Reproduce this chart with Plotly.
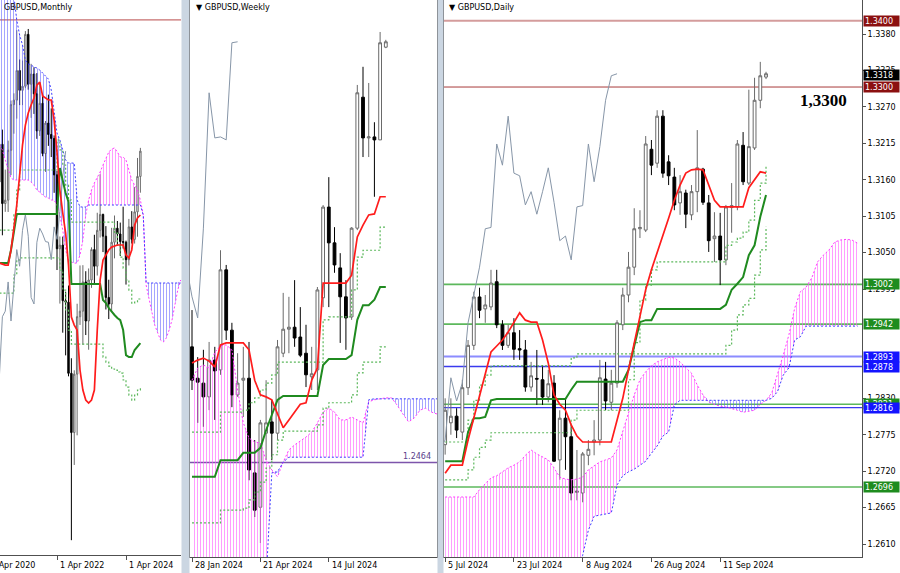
import numpy as np
import plotly.graph_objects as go

# ================= DATA =================
# ---- Monthly (bar index: 0 = Apr 2022) ----
m_pos = list(range(-20, 30))
m_open = [1.3083, 1.3370, 1.2918, 1.2944, 1.3325, 1.3673, 1.3707, 1.3933, 1.3782, 1.3813,
          1.4209, 1.3828, 1.3906, 1.3755, 1.3472, 1.3683, 1.3300, 1.3532, 1.3445, 1.3415,
          1.3137, 1.2573, 1.2601, 1.2177, 1.2166, 1.1623, 1.1171, 1.1617, 1.2055, 1.2097,
          1.2320, 1.2022, 1.2335, 1.2567, 1.2440, 1.2714, 1.2835, 1.2669, 1.2202, 1.2152,
          1.2623, 1.2730, 1.2686, 1.2628, 1.2623, 1.2490, 1.2740, 1.2645, 1.2855, 1.3125]
m_high = [1.3395, 1.3482, 1.3177, 1.3398, 1.3704, 1.3759, 1.4241, 1.4017, 1.4009, 1.4234,
          1.4250, 1.3984, 1.3958, 1.3913, 1.3834, 1.3750, 1.3548, 1.3749, 1.3644, 1.3438,
          1.3167, 1.2667, 1.2666, 1.2246, 1.2293, 1.1738, 1.1646, 1.2154, 1.2446, 1.2448,
          1.2402, 1.2423, 1.2584, 1.2680, 1.2848, 1.3142, 1.2841, 1.2746, 1.2337, 1.2733,
          1.2827, 1.2785, 1.2773, 1.2894, 1.2635, 1.2801, 1.2860, 1.3044, 1.3266, 1.3343]
m_low = [1.3005, 1.2676, 1.2855, 1.2854, 1.3135, 1.3451, 1.3566, 1.3669, 1.3669, 1.3799,
         1.3787, 1.3572, 1.3602, 1.3412, 1.3434, 1.3279, 1.3160, 1.3358, 1.3273, 1.3000,
         1.2411, 1.2155, 1.1933, 1.1760, 1.1600, 1.0350, 1.0924, 1.1150, 1.1992, 1.1841,
         1.1915, 1.1803, 1.2275, 1.2308, 1.2369, 1.2659, 1.2548, 1.2110, 1.2037, 1.2095,
         1.2500, 1.2597, 1.2518, 1.2575, 1.2300, 1.2446, 1.2613, 1.2613, 1.2665, 1.3001]
m_close = [1.3370, 1.2918, 1.2944, 1.3325, 1.3673, 1.3707, 1.3933, 1.3782, 1.3813, 1.4209,
           1.3828, 1.3906, 1.3755, 1.3472, 1.3683, 1.3300, 1.3532, 1.3445, 1.3415, 1.3137,
           1.2573, 1.2601, 1.2177, 1.2166, 1.1623, 1.1171, 1.1617, 1.2055, 1.2097, 1.2320,
           1.2022, 1.2335, 1.2567, 1.2440, 1.2714, 1.2835, 1.2669, 1.2202, 1.2152, 1.2623,
           1.2730, 1.2686, 1.2628, 1.2623, 1.2490, 1.2740, 1.2645, 1.2855, 1.3125, 1.3318]
m_tenkan = [1.2464, 1.2457, 1.2449, 1.2449, 1.2564, 1.2731, 1.2907, 1.3136, 1.3365, 1.3517,
            1.3609, 1.3670, 1.3723, 1.3822, 1.3845, 1.3739, 1.3723, 1.3708, 1.3708, 1.3555,
            1.3311, 1.3021, 1.2846, 1.2693, 1.2449, 1.2052, 1.1991, 1.1953, 1.1648, 1.1495,
            1.1419, 1.1396, 1.1419, 1.1495, 1.1953, 1.2335, 1.2487, 1.2525, 1.2564, 1.2586,
            1.2594, 1.2602, 1.2602, 1.2602, 1.2525, 1.2503, 1.2564, 1.2754, 1.2808, 1.2831]
m_kijun = [1.2464, 1.2464, 1.2464, 1.2464, 1.2564, 1.2701, 1.2838, 1.2838, 1.2838, 1.2838,
           1.2838, 1.2838, 1.2838, 1.2838, 1.2838, 1.2838, 1.2838, 1.2838, 1.2838, 1.2838,
           1.2838, 1.3189, 1.3082, 1.2998, 1.2930, 1.2304, 1.2304, 1.2304, 1.2304, 1.2304,
           1.2304, 1.2304, 1.2304, 1.2304, 1.2304, 1.2304, 1.2182, 1.2159, 1.2121, 1.2090,
           1.2068, 1.2045, 1.2029, 1.1953, 1.1762, 1.1747, 1.1747, 1.1801, 1.1831, 1.1854]
m_level1 = [1.2716, 1.2716, 1.2716, 1.2716, 1.2716, 1.2831, 1.3021, 1.3174, 1.3174, 1.3174,
            1.3174, 1.3174, 1.3174, 1.3174, 1.3174, 1.3174, 1.3174, 1.3174, 1.3174, 1.3174,
            1.3403, 1.3327, 1.3212, 1.3059, 1.2945, 1.2777, 1.2777, 1.2777, 1.2777, 1.2777,
            1.2777, 1.2777, 1.2777, 1.2777, 1.2777, 1.2777, 1.2777, 1.2777, 1.2777, 1.2777,
            1.2693, 1.2602, 1.2510, 1.2426, 1.2335, 1.2258, 1.2159, 1.2167, 1.2190, 1.2205]
m_level2 = [1.2235, 1.2235, 1.2235, 1.2235, 1.2235, 1.2373, 1.2487, 1.2503, 1.2503, 1.2503,
            1.2503, 1.2503, 1.2503, 1.2503, 1.2503, 1.2503, 1.2503, 1.2503, 1.2503, 1.2503,
            1.2503, 1.2411, 1.2258, 1.2106, 1.1953, 1.1846, 1.1846, 1.1846, 1.1846, 1.1846,
            1.1846, 1.1846, 1.1846, 1.1846, 1.1846, 1.1846, 1.1747, 1.1709, 1.1678, 1.1656,
            1.1648, 1.1633, 1.1625, 1.1572, 1.1518, 1.1457, 1.1419, 1.1457, 1.1495, 1.1511]
m_cloud_pos = list(range(-20, 44))
m_span_a = [1.3365, 1.3327, 1.3250, 1.3174, 1.3113, 1.3098, 1.3098, 1.3098, 1.3098, 1.3098,
            1.3098, 1.3082, 1.3059, 1.3021, 1.3006, 1.2983, 1.2968, 1.2960, 1.2945, 1.2945,
            1.2907, 1.2831, 1.2716, 1.2564, 1.2487, 1.2472, 1.2464, 1.2464, 1.2525, 1.2640,
            1.2831, 1.2945, 1.3021, 1.3075, 1.3113, 1.3159, 1.3212, 1.3266, 1.3311, 1.3334,
            1.3342, 1.3311, 1.3273, 1.3273, 1.3250, 1.3174, 1.3098, 1.3059, 1.3021, 1.2945,
            1.2831, 1.2296, 1.2205, 1.2090, 1.1991, 1.1938, 1.1877, 1.1862, 1.1892, 1.1953,
            1.2029, 1.2144, 1.2258, 1.2335]
m_span_b = [1.4500, 1.4500, 1.4500, 1.4500, 1.4500, 1.4500, 1.4318, 1.4204, 1.4128, 1.4013,
            1.3983, 1.3975, 1.3960, 1.3952, 1.3937, 1.3914, 1.3891, 1.3868, 1.3784, 1.3632,
            1.3456, 1.3403, 1.3327, 1.3250, 1.3227, 1.3227, 1.3227, 1.2945, 1.2892, 1.2892,
            1.2892, 1.2907, 1.2907, 1.2907, 1.2907, 1.2907, 1.2907, 1.2907, 1.2907, 1.2907,
            1.2907, 1.2907, 1.2907, 1.2907, 1.2907, 1.2907, 1.2907, 1.2907, 1.2907, 1.2907,
            1.2831, 1.2312, 1.2312, 1.2312, 1.2312, 1.2312, 1.2312, 1.2312, 1.2312, 1.2312,
            1.2312, 1.2312, 1.2312, 1.2312]
m_tick_pos = [-24, 0, 24]
m_tick_text = ["1 Apr 2020", "1 Apr 2022", "1 Apr 2024"]
m_hline = [1.4319]

# ---- Weekly (bar index: 0 = 28 Jan 2024) ----
w_pos = list(range(0, 35))
w_open = [1.2700, 1.2636, 1.2626, 1.2598, 1.2673, 1.2653, 1.2857, 1.2734, 1.2602, 1.2632,
          1.2636, 1.2443, 1.2373, 1.2524, 1.2547, 1.2524, 1.2687, 1.2736, 1.2740, 1.2720,
          1.2687, 1.2639, 1.2653, 1.2800, 1.2985, 1.2912, 1.2861, 1.2802, 1.2761, 1.2942,
          1.3209, 1.3126, 1.3128, 1.3122, 1.3311]
w_high = [1.2775, 1.2679, 1.2694, 1.2710, 1.2700, 1.2897, 1.2867, 1.2749, 1.2687, 1.2700,
          1.2710, 1.2510, 1.2551, 1.2632, 1.2592, 1.2714, 1.2810, 1.2802, 1.2836, 1.2781,
          1.2745, 1.2700, 1.2822, 1.2989, 1.3046, 1.2944, 1.2891, 1.2836, 1.2944, 1.3234,
          1.3271, 1.3238, 1.3158, 1.3342, 1.3326]
w_low = [1.2612, 1.2545, 1.2537, 1.2571, 1.2551, 1.2643, 1.2714, 1.2577, 1.2598, 1.2557,
         1.2428, 1.2353, 1.2300, 1.2469, 1.2469, 1.2510, 1.2679, 1.2687, 1.2700, 1.2679,
         1.2618, 1.2612, 1.2612, 1.2781, 1.2781, 1.2851, 1.2708, 1.2694, 1.2755, 1.2938,
         1.3087, 1.3087, 1.3006, 1.3122, 1.3309]
w_close = [1.2632, 1.2628, 1.2598, 1.2673, 1.2651, 1.2857, 1.2734, 1.2602, 1.2626, 1.2636,
           1.2449, 1.2367, 1.2545, 1.2545, 1.2524, 1.2700, 1.2736, 1.2740, 1.2718, 1.2683,
           1.2643, 1.2645, 1.2816, 1.2985, 1.2912, 1.2867, 1.2802, 1.2759, 1.2942, 1.3218,
           1.3126, 1.3128, 1.3122, 1.3320, 1.3322]
w_tenkan = [1.2667, 1.2673, 1.2677, 1.2671, 1.2659, 1.2704, 1.2708, 1.2708, 1.2708, 1.2708,
            1.2694, 1.2632, 1.2602, 1.2598, 1.2592, 1.2565, 1.2535, 1.2551, 1.2567, 1.2583,
            1.2586, 1.2632, 1.2657, 1.2830, 1.2830, 1.2830, 1.2830, 1.2830, 1.2846, 1.2924,
            1.2948, 1.2969, 1.2971, 1.3006, 1.3006]
w_kijun = [1.2435, 1.2435, 1.2435, 1.2435, 1.2435, 1.2469, 1.2469, 1.2469, 1.2469, 1.2484,
           1.2484, 1.2484, 1.2494, 1.2530, 1.2561, 1.2592, 1.2600, 1.2600, 1.2600, 1.2600,
           1.2600, 1.2600, 1.2600, 1.2663, 1.2675, 1.2675, 1.2675, 1.2675, 1.2683, 1.2755,
           1.2785, 1.2785, 1.2796, 1.2822, 1.2822]
w_level1 = [1.2526, 1.2526, 1.2526, 1.2526, 1.2526, 1.2567, 1.2567, 1.2567, 1.2567, 1.2571,
            1.2586, 1.2596, 1.2612, 1.2626, 1.2643, 1.2669, 1.2669, 1.2669, 1.2669, 1.2669,
            1.2669, 1.2669, 1.2669, 1.2755, 1.2761, 1.2761, 1.2761, 1.2761, 1.2816, 1.2883,
            1.2897, 1.2897, 1.2897, 1.2944, 1.2944]
w_level2 = [1.2341, 1.2341, 1.2341, 1.2341, 1.2341, 1.2367, 1.2367, 1.2367, 1.2367, 1.2371,
            1.2388, 1.2404, 1.2424, 1.2453, 1.2480, 1.2510, 1.2528, 1.2528, 1.2528, 1.2528,
            1.2528, 1.2528, 1.2541, 1.2575, 1.2586, 1.2586, 1.2586, 1.2586, 1.2602, 1.2647,
            1.2669, 1.2669, 1.2669, 1.2700, 1.2700]
w_cloud_pos = list(range(0, 44))
w_span_a = [1.2632, 1.2657, 1.2663, 1.2657, 1.2689, 1.2702, 1.2704, 1.2694, 1.2612, 1.2545,
            1.2514, 1.2506, 1.2504, 1.2469, 1.2449, 1.2435, 1.2465, 1.2490, 1.2500, 1.2508,
            1.2516, 1.2526, 1.2545, 1.2567, 1.2575, 1.2567, 1.2551, 1.2551, 1.2557, 1.2551,
            1.2545, 1.2588, 1.2592, 1.2594, 1.2596, 1.2596, 1.2581, 1.2563, 1.2547, 1.2555,
            1.2571, 1.2575, 1.2567, 1.2563]
w_span_b = [1.2184, 1.2184, 1.2184, 1.2184, 1.2184, 1.2184, 1.2184, 1.2184, 1.2184, 1.2184,
            1.2184, 1.2184, 1.2184, 1.2225, 1.2443, 1.2445, 1.2465, 1.2475, 1.2475, 1.2475,
            1.2475, 1.2475, 1.2475, 1.2475, 1.2475, 1.2475, 1.2475, 1.2475, 1.2475, 1.2475,
            1.2475, 1.2592, 1.2594, 1.2594, 1.2594, 1.2594, 1.2594, 1.2594, 1.2594, 1.2594,
            1.2594, 1.2594, 1.2594, 1.2594]
w_tick_pos = [0, 12, 24]
w_tick_text = ["28 Jan 2024", "21 Apr 2024", "14 Jul 2024"]
w_hline = [1.2464]

# ---- Daily (bar index: 0 = 5 Jul 2024) ----
d_pos = list(range(0, 57))
d_open = [1.2760, 1.2793, 1.2803, 1.2779, 1.2846, 1.2910, 1.2983, 1.2965, 1.2968, 1.3006,
          1.2941, 1.2910, 1.2929, 1.2905, 1.2903, 1.2847, 1.2860, 1.2858, 1.2832, 1.2853,
          1.2737, 1.2800, 1.2772, 1.2688, 1.2687, 1.2744, 1.2764, 1.2767, 1.2859, 1.2824,
          1.2853, 1.2941, 1.2986, 1.3028, 1.3086, 1.3084, 1.3206, 1.3185, 1.3256, 1.3187,
          1.3164, 1.3125, 1.3140, 1.3107, 1.3142, 1.3176, 1.3125, 1.3071, 1.3075, 1.3039,
          1.3118, 1.3119, 1.3212, 1.3155, 1.3208, 1.3280, 1.3315]
d_high = [1.2830, 1.2830, 1.2815, 1.2858, 1.2918, 1.2991, 1.2997, 1.2986, 1.3024, 1.3024,
          1.2948, 1.2941, 1.2951, 1.2933, 1.2918, 1.2885, 1.2903, 1.2880, 1.2873, 1.2865,
          1.2812, 1.2830, 1.2790, 1.2752, 1.2749, 1.2767, 1.2797, 1.2888, 1.2885, 1.2873,
          1.2948, 1.2997, 1.3051, 1.3117, 1.3114, 1.3226, 1.3220, 1.3265, 1.3265, 1.3197,
          1.3178, 1.3167, 1.3145, 1.3152, 1.3235, 1.3178, 1.3137, 1.3111, 1.3110, 1.3122,
          1.3155, 1.3220, 1.3232, 1.3296, 1.3314, 1.3338, 1.3323]
d_low = [1.2745, 1.2775, 1.2770, 1.2767, 1.2835, 1.2903, 1.2951, 1.2944, 1.2963, 1.2936,
         1.2903, 1.2906, 1.2888, 1.2888, 1.2840, 1.2840, 1.2820, 1.2820, 1.2824, 1.2734,
         1.2707, 1.2722, 1.2676, 1.2676, 1.2673, 1.2729, 1.2744, 1.2759, 1.2812, 1.2812,
         1.2846, 1.2933, 1.2975, 1.3016, 1.3072, 1.3081, 1.3167, 1.3178, 1.3163, 1.3152,
         1.3114, 1.3107, 1.3087, 1.3099, 1.3111, 1.3122, 1.3051, 1.3036, 1.3001, 1.3031,
         1.3080, 1.3114, 1.3152, 1.3152, 1.3205, 1.3268, 1.3312]
d_close = [1.2812, 1.2803, 1.2782, 1.2846, 1.2910, 1.2983, 1.2963, 1.2971, 1.3004, 1.2941,
           1.2910, 1.2929, 1.2904, 1.2903, 1.2847, 1.2864, 1.2859, 1.2832, 1.2852, 1.2735,
           1.2800, 1.2772, 1.2687, 1.2690, 1.2746, 1.2753, 1.2767, 1.2861, 1.2826, 1.2853,
           1.2944, 1.2986, 1.3028, 1.3086, 1.3088, 1.3214, 1.3182, 1.3256, 1.3170, 1.3166,
           1.3122, 1.3142, 1.3108, 1.3142, 1.3178, 1.3126, 1.3068, 1.3075, 1.3039, 1.3119,
           1.3121, 1.3214, 1.3157, 1.3210, 1.3280, 1.3317, 1.3320]
d_tenkan = [1.2717, 1.2729, 1.2729, 1.2729, 1.2767, 1.2800, 1.2833, 1.2867, 1.2900, 1.2909,
            1.2918, 1.2930, 1.2945, 1.2959, 1.2948, 1.2945, 1.2945, 1.2918, 1.2883, 1.2835,
            1.2821, 1.2812, 1.2790, 1.2773, 1.2764, 1.2764, 1.2764, 1.2764, 1.2764, 1.2764,
            1.2797, 1.2830, 1.2873, 1.2914, 1.2951, 1.2994, 1.3024, 1.3049, 1.3077, 1.3102,
            1.3129, 1.3152, 1.3170, 1.3175, 1.3176, 1.3175, 1.3152, 1.3129, 1.3119, 1.3119,
            1.3119, 1.3119, 1.3119, 1.3148, 1.3160, 1.3172, 1.3170]
d_kijun = [1.2735, 1.2735, 1.2735, 1.2735, 1.2779, 1.2800, 1.2800, 1.2802, 1.2827, 1.2829,
           1.2829, 1.2829, 1.2829, 1.2829, 1.2829, 1.2829, 1.2829, 1.2829, 1.2829, 1.2829,
           1.2829, 1.2829, 1.2843, 1.2855, 1.2855, 1.2855, 1.2855, 1.2855, 1.2855, 1.2855,
           1.2855, 1.2855, 1.2873, 1.2910, 1.2945, 1.2948, 1.2948, 1.2965, 1.2965, 1.2965,
           1.2965, 1.2965, 1.2965, 1.2965, 1.2965, 1.2965, 1.2965, 1.2965, 1.2965, 1.2971,
           1.2994, 1.3003, 1.3013, 1.3046, 1.3061, 1.3104, 1.3137]
d_level1 = [1.2764, 1.2764, 1.2764, 1.2764, 1.2797, 1.2827, 1.2850, 1.2865, 1.2879, 1.2879,
            1.2879, 1.2879, 1.2879, 1.2879, 1.2879, 1.2879, 1.2879, 1.2879, 1.2879, 1.2879,
            1.2879, 1.2879, 1.2891, 1.2897, 1.2897, 1.2897, 1.2897, 1.2897, 1.2897, 1.2897,
            1.2897, 1.2897, 1.2897, 1.2897, 1.2897, 1.2897, 1.2897, 1.2897, 1.2897, 1.2897,
            1.2897, 1.2897, 1.2897, 1.2897, 1.2897, 1.2897, 1.2897, 1.2897, 1.2897, 1.2910,
            1.2933, 1.2956, 1.2971, 1.2981, 1.3016, 1.3054, 1.3089]
d_level2 = [1.2707, 1.2707, 1.2707, 1.2707, 1.2722, 1.2741, 1.2756, 1.2767, 1.2778, 1.2778,
            1.2778, 1.2778, 1.2778, 1.2778, 1.2778, 1.2778, 1.2778, 1.2778, 1.2778, 1.2778,
            1.2778, 1.2778, 1.2797, 1.2812, 1.2812, 1.2812, 1.2812, 1.2812, 1.2812, 1.2812,
            1.2812, 1.2812, 1.2858, 1.2914, 1.2978, 1.3001, 1.3024, 1.3036, 1.3036, 1.3036,
            1.3036, 1.3036, 1.3036, 1.3036, 1.3036, 1.3036, 1.3036, 1.3036, 1.3036, 1.3061,
            1.3066, 1.3072, 1.3081, 1.3099, 1.3129, 1.3155, 1.3182]
d_cloud_pos = list(range(0, 73))
d_span_a = [1.2681, 1.2681, 1.2681, 1.2681, 1.2681, 1.2681, 1.2692, 1.2701, 1.2710, 1.2713,
            1.2719, 1.2725, 1.2729, 1.2734, 1.2744, 1.2752, 1.2746, 1.2741, 1.2737, 1.2725,
            1.2711, 1.2708, 1.2707, 1.2708, 1.2711, 1.2722, 1.2728, 1.2734, 1.2737, 1.2740,
            1.2752, 1.2782, 1.2808, 1.2835, 1.2858, 1.2870, 1.2879, 1.2885, 1.2889, 1.2892,
            1.2891, 1.2885, 1.2876, 1.2868, 1.2850, 1.2835, 1.2824, 1.2821, 1.2818, 1.2817,
            1.2815, 1.2812, 1.2809, 1.2811, 1.2812, 1.2821, 1.2827, 1.2838, 1.2865, 1.2895,
            1.2926, 1.2966, 1.2991, 1.2998, 1.3012, 1.3036, 1.3046, 1.3054, 1.3066, 1.3069,
            1.3070, 1.3069, 1.3064]
d_span_b = [1.2556, 1.2556, 1.2556, 1.2556, 1.2556, 1.2556, 1.2556, 1.2556, 1.2556, 1.2556,
            1.2556, 1.2556, 1.2556, 1.2556, 1.2556, 1.2556, 1.2556, 1.2556, 1.2556, 1.2556,
            1.2556, 1.2556, 1.2556, 1.2556, 1.2593, 1.2631, 1.2652, 1.2654, 1.2655, 1.2657,
            1.2699, 1.2713, 1.2719, 1.2723, 1.2729, 1.2735, 1.2747, 1.2758, 1.2773, 1.2779,
            1.2820, 1.2827, 1.2827, 1.2827, 1.2827, 1.2827, 1.2827, 1.2827, 1.2827, 1.2827,
            1.2827, 1.2827, 1.2827, 1.2827, 1.2827, 1.2827, 1.2827, 1.2830, 1.2840, 1.2865,
            1.2876, 1.2918, 1.2923, 1.2939, 1.2939, 1.2939, 1.2939, 1.2939, 1.2939, 1.2939,
            1.2939, 1.2939, 1.2939]
d_tick_pos = [0, 12, 24, 36, 48]
d_tick_text = ["5 Jul 2024", "23 Jul 2024", "8 Aug 2024", "26 Aug 2024", "11 Sep 2024"]
d_price_ticks = [1.2610, 1.2665, 1.2720, 1.2775, 1.2830,
                 1.2995, 1.3050, 1.3105, 1.3160, 1.3215, 1.3270, 1.3325, 1.3380]
d_levels = [1.3400, 1.3300, 1.3002, 1.2942, 1.2893, 1.2878, 1.2821, 1.2816, 1.2696]
d_level_kind = ["red_light", "red", "green", "green", "blue_light", "blue", "green", "blue", "green"]
d_last_price = 1.3318
d_key_level_text = "1,3300"
d_key_level = 1.3280
d_key_pos = 66
CHIKOU_SHIFT = 26

# ================= STYLE / LAYOUT =================
W, H = 900, 573
M_DOM, W_DOM, D_DOM = [0.0, 181 / W], [190 / W, 437 / W], [444 / W, 862 / W]
M_YDOM, W_YDOM, D_YDOM = [1 - 555 / H, 1.0], [1 - 557 / H, 1.0], [1 - 557 / H, 1.0]
M_XR, W_XR, D_XR = [-19.83, 43.13], [-0.35, 42.98], [-0.2, 72.75]
M_YR, W_YR, D_YR = [1.0237, 1.4471], [1.22715, 1.34072], [1.25904, 1.34314]

TENKAN_C = "#ff1c1c"
KIJUN_C = "#1f8a1f"
DOT_C = "#5cb85c"
CHIKOU_C = "#8796a8"
SPAN_A_C = "#ff3cff"
SPAN_B_C = "#3c3cff"
DOT = "2px,2px"
FONT = "DejaVu Sans"

LEVEL_STYLE = {
    "red_light": dict(line="#d49c9c", box="#8b1010", w=2),
    "red": dict(line="#a83a3a", box="#8b1010", w=1),
    "green": dict(line="#5cb85c", box="#1e8c1e", w=1.6),
    "blue_light": dict(line="#8c8cff", box="#1414ff", w=2),
    "blue": dict(line="#3a3aee", box="#1414ff", w=1.3),
}

fig = go.Figure()


def add_cloud(x, a, b, xa, ya):
    a = np.array(a)
    b = np.array(b)
    top = np.maximum(a, b)
    common = dict(mode="lines", hoverinfo="skip", xaxis=xa, yaxis=ya, showlegend=False)
    fig.add_trace(go.Scatter(x=x, y=b, line=dict(width=0), **common))
    fig.add_trace(go.Scatter(x=x, y=top, line=dict(width=0), fill="tonexty",
                             fillcolor="rgba(0,0,0,0)",
                             fillpattern=dict(shape="|", fgcolor="#ff5cff", fgopacity=0.6,
                                              bgcolor="rgba(0,0,0,0)", size=3, solidity=0.34),
                             **common))
    fig.add_trace(go.Scatter(x=x, y=a, line=dict(width=0), **common))
    fig.add_trace(go.Scatter(x=x, y=top, line=dict(width=0), fill="tonexty",
                             fillcolor="rgba(0,0,0,0)",
                             fillpattern=dict(shape="|", fgcolor="#5a5aff", fgopacity=0.55,
                                              bgcolor="rgba(0,0,0,0)", size=3, solidity=0.34),
                             **common))
    fig.add_trace(go.Scatter(x=x, y=a, line=dict(color=SPAN_A_C, width=1, dash=DOT), **common))
    fig.add_trace(go.Scatter(x=x, y=b, line=dict(color=SPAN_B_C, width=1, dash=DOT), **common))


def add_line(x, y, xa, ya, color, width, dash=None, shape="linear"):
    fig.add_trace(go.Scatter(x=x, y=y, mode="lines", hoverinfo="skip", showlegend=False,
                             xaxis=xa, yaxis=ya, line=dict(color=color, width=width, dash=dash, shape=shape)))


def add_candles(x, o, h, l, c, xa, ya):
    fig.add_trace(go.Candlestick(x=x, open=o, high=h, low=l, close=c, xaxis=xa, yaxis=ya,
                                 increasing=dict(line=dict(color="#6a6a6a", width=1), fillcolor="white"),
                                 decreasing=dict(line=dict(color="#000000", width=1), fillcolor="black"),
                                 whiskerwidth=0, hoverinfo="skip", showlegend=False))


def panel(pos, o, h, l, c, tenkan, kijun, lv1, lv2, cpos, sa, sb, xa, ya):
    add_cloud(cpos, sa, sb, xa, ya)
    add_line(pos, lv2, xa, ya, DOT_C, 1.2, DOT, "hv")
    add_line(pos, lv1, xa, ya, DOT_C, 1.2, DOT, "hv")
    add_line([p - CHIKOU_SHIFT for p in pos], c, xa, ya, CHIKOU_C, 1)
    add_line(pos, kijun, xa, ya, KIJUN_C, 2)
    add_line(pos, tenkan, xa, ya, TENKAN_C, 1.7)
    add_candles(pos, o, h, l, c, xa, ya)


panel(m_pos, m_open, m_high, m_low, m_close, m_tenkan, m_kijun, m_level1, m_level2,
      m_cloud_pos, m_span_a, m_span_b, "x", "y")
panel(w_pos, w_open, w_high, w_low, w_close, w_tenkan, w_kijun, w_level1, w_level2,
      w_cloud_pos, w_span_a, w_span_b, "x2", "y2")
panel(d_pos, d_open, d_high, d_low, d_close, d_tenkan, d_kijun, d_level1, d_level2,
      d_cloud_pos, d_span_a, d_span_b, "x3", "y3")

shapes = []
annotations = []

# horizontal levels
for v in m_hline:
    shapes.append(dict(type="line", xref="x domain", yref="y", x0=0, x1=1, y0=v, y1=v,
                       line=dict(color="#b84a4a", width=1), layer="below"))
for v in w_hline:
    shapes.append(dict(type="line", xref="x2 domain", yref="y2", x0=0, x1=1, y0=v, y1=v,
                       line=dict(color="#7d55ab", width=1.5), layer="below"))
    annotations.append(dict(xref="x2", yref="y2", x=42.2, y=v, text=f"{v:.4f}", showarrow=False,
                            xanchor="right", yanchor="bottom", font=dict(family=FONT, size=8, color="#5b3f8c")))
for v, k in zip(d_levels, d_level_kind):
    st = LEVEL_STYLE[k]
    shapes.append(dict(type="line", xref="x3 domain", yref="y3", x0=0, x1=1, y0=v, y1=v,
                       line=dict(color=st["line"], width=st["w"]), layer="below"))

# price boxes on the daily axis
box_items = [(v, LEVEL_STYLE[k]["box"]) for v, k in zip(d_levels, d_level_kind)]
box_items.insert(1, (d_last_price, "#000000"))
for v, col in box_items:
    annotations.append(dict(xref="paper", yref="y3", x=D_DOM[1], y=v, text=f"{v:.4f}", showarrow=False,
                            xanchor="left", yanchor="middle", xshift=1, bgcolor=col, width=33, height=8,
                            borderpad=1, align="left", font=dict(family=FONT, size=8, color="white")))

annotations.append(dict(xref="x3", yref="y3", x=d_key_pos, y=d_key_level, text=f"<b>{d_key_level_text}</b>",
                        showarrow=False, font=dict(family="Liberation Serif", size=17, color="black")))


def to_paper(v, rng, dom):
    return dom[0] + (v - rng[0]) / (rng[1] - rng[0]) * (dom[1] - dom[0])


for tp, tt, rng, dom in [(m_tick_pos, m_tick_text, M_XR, M_DOM), (w_tick_pos, w_tick_text, W_XR, W_DOM),
                         (d_tick_pos, d_tick_text, D_XR, D_DOM)]:
    for v, t in zip(tp, tt):
        annotations.append(dict(xref="paper", yref="paper", x=to_paper(v, rng, dom), y=1 - 565 / H,
                                text=t, showarrow=False, xanchor="left", yanchor="middle", xshift=1,
                                font=dict(family=FONT, size=8, color="black")))

# window titles
annotations.append(dict(xref="paper", yref="paper", x=M_DOM[0] + 2 / W, y=1 - 8 / H, text="GBPUSD,Monthly",
                        showarrow=False, xanchor="left", yanchor="middle", font=dict(family=FONT, size=8)))
annotations.append(dict(xref="paper", yref="paper", x=W_DOM[0] + 4 / W, y=1 - 8 / H, text="▼ GBPUSD,Weekly",
                        showarrow=False, xanchor="left", yanchor="middle", font=dict(family=FONT, size=8)))
annotations.append(dict(xref="paper", yref="paper", x=D_DOM[0] + 3 / W, y=1 - 8 / H, text="▼ GBPUSD,Daily",
                        showarrow=False, xanchor="left", yanchor="middle", font=dict(family=FONT, size=8)))

# window gutters
for x0, x1 in [(181.5, 189.5), (437.5, 443.5)]:
    shapes.append(dict(type="rect", xref="paper", yref="paper", x0=x0 / W, x1=x1 / W, y0=0, y1=1,
                       fillcolor="#cbd6e2", line=dict(width=0), layer="above"))

AX = dict(showgrid=False, zeroline=False, fixedrange=True)
LINE_C = "#505050"

fig.update_layout(
    width=W, height=H, margin=dict(l=0, r=0, t=0, b=0),
    paper_bgcolor="white", plot_bgcolor="white", showlegend=False,
    font=dict(family=FONT, size=8, color="black"),
    boxgap=0.3,
    xaxis=dict(domain=M_DOM, range=M_XR, anchor="y", showline=True, linecolor=LINE_C, ticks="outside",
               ticklen=4, tickcolor=LINE_C, tickvals=m_tick_pos, showticklabels=False,
               rangeslider=dict(visible=False), **AX),
    yaxis=dict(domain=M_YDOM, range=M_YR, anchor="x", showticklabels=False, ticks="", **AX),
    xaxis2=dict(domain=W_DOM, range=W_XR, anchor="y2", showline=True, mirror=True, linecolor=LINE_C,
                ticks="outside", ticklen=4, tickcolor=LINE_C, tickvals=w_tick_pos, showticklabels=False,
                rangeslider=dict(visible=False), **AX),
    yaxis2=dict(domain=W_YDOM, range=W_YR, anchor="x2", showline=True, mirror=True, linecolor=LINE_C,
                showticklabels=False, ticks="", **AX),
    xaxis3=dict(domain=D_DOM, range=D_XR, anchor="y3", showline=True, mirror=True, linecolor=LINE_C,
                ticks="outside", ticklen=4, tickcolor=LINE_C, tickvals=d_tick_pos, showticklabels=False,
                rangeslider=dict(visible=False), **AX),
    yaxis3=dict(domain=D_YDOM, range=D_YR, anchor="x3", side="right", showline=True, mirror=True,
                linecolor=LINE_C, ticks="outside", ticklen=3, tickcolor=LINE_C, tickvals=d_price_ticks,
                tickformat=".4f", tickfont=dict(family=FONT, size=8, color="black"), **AX),
    shapes=shapes,
    annotations=annotations,
)

fig.write_html("out.html", config={"displayModeBar": False},
               post_script="document.body.style.margin='0px';document.body.style.overflow='hidden';")
